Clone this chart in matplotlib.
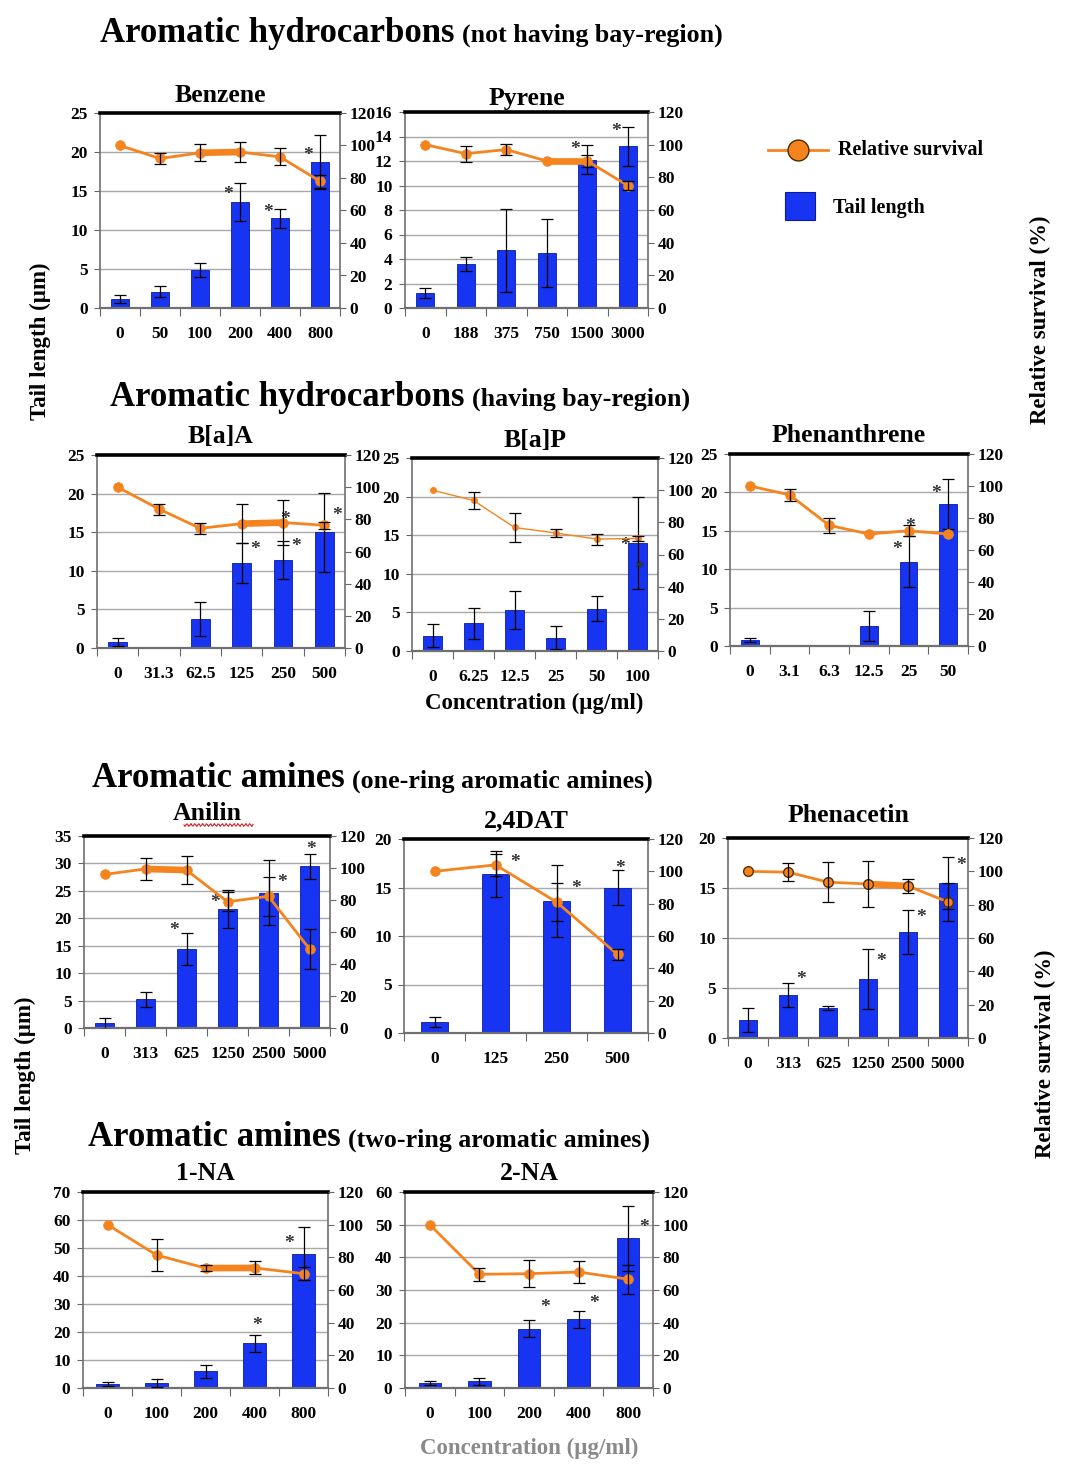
import numpy as np
import matplotlib
matplotlib.use("Agg")
import matplotlib.pyplot as plt
from matplotlib.lines import Line2D
from matplotlib.patches import Rectangle

plt.rcParams['font.family'] = ['Liberation Serif', 'DejaVu Serif']
plt.rcParams['font.weight'] = 'bold'

W, H = 1072, 1479
BLUE = '#1634F2'
ORANGE = '#F5841F'

# ---------------- data ----------------
benzene_conc = ['0', '50', '100', '200', '400', '800']
benzene_tail = [1.2, 2.1, 4.9, 13.6, 11.5, 18.7]
benzene_tail_err = [0.5, 0.7, 0.9, 2.4, 1.2, 3.5]
benzene_surv = [100, 92, 95.5, 96, 93, 78]
benzene_surv_err = [0, 3.6, 5.3, 6.2, 5.3, 4]
benzene_stars = [(3, 14.6, 'L'), (4, 12.3, 'L'), (5, 19.6, 'L')]

pyrene_conc = ['0', '188', '375', '750', '1500', '3000']
pyrene_tail = [1.2, 3.6, 4.7, 4.5, 12.1, 13.2]
pyrene_tail_err = [0.4, 0.6, 3.4, 2.8, 1.2, 1.6]
pyrene_surv = [100, 94.5, 97, 90, 90, 75]
pyrene_surv_err = [0, 4.9, 3.6, 0, 3.5, 2.6]
pyrene_stars = [(4, 12.9, 'L'), (5, 14.4, 'L')]

baa_conc = ['0', '31.3', '62.5', '125', '250', '500']
baa_tail = [0.8, 0, 3.8, 11.0, 11.4, 15.0]
baa_tail_err = [0.5, 0, 2.2, 2.6, 2.4, 5.1]
baa_surv = [100, 86.4, 74.4, 77.3, 78, 76.3]
baa_surv_err = [0, 3.4, 3.4, 12, 14, 2]
baa_stars = [(3, 12.8, 'R'), (4, 16.6, 'C'), (4, 13.2, 'R'), (5, 17.2, 'R')]

bap_conc = ['0', '6.25', '12.5', '25', '50', '100']
bap_tail = [2.0, 3.6, 5.3, 1.7, 5.5, 14.0]
bap_tail_err = [1.5, 2.0, 2.5, 1.5, 1.6, 6.0]
bap_surv = [100, 93.6, 76.8, 73.4, 69.6, 70]
bap_surv_err = [0, 5.3, 9, 2.6, 3.4, 1.5]
bap_stars = [(5, 13.7, 'L'), (5, 10.5, 'C')]

phen_conc = ['0', '3.1', '6.3', '12.5', '25', '50']
phen_tail = [0.8, 0, 0, 2.6, 11.0, 18.5]
phen_tail_err = [0.3, 0, 0, 1.9, 3.3, 3.3]
phen_surv = [100, 94.5, 75.4, 70, 72, 70]
phen_surv_err = [0, 3.6, 4.6, 0, 3.4, 0]
phen_stars = [(4, 12.6, 'L'), (4, 15.6, 'C'), (5, 19.8, 'L')]

anilin_conc = ['0', '313', '625', '1250', '2500', '5000']
anilin_tail = [0.9, 5.2, 14.4, 21.7, 24.7, 29.5]
anilin_tail_err = [1.0, 1.4, 3.0, 3.4, 6.0, 2.3]
anilin_surv = [96, 99.4, 98.7, 78.9, 82.3, 49.4]
anilin_surv_err = [0, 7, 9, 6, 12, 12.4]
anilin_stars = [(2, 17.8, 'L'), (3, 22.8, 'L'), (4, 26.5, 'R'), (5, 32.5, 'C')]

dat_conc = ['0', '125', '250', '500']
dat_tail = [1.1, 16.4, 13.6, 15.0]
dat_tail_err = [0.5, 2.4, 3.7, 1.8]
dat_surv = [100, 104, 81, 48.6]
dat_surv_err = [0, 6.6, 12, 3.6]
dat_stars = [(1, 17.6, 'R'), (2, 14.9, 'R'), (3, 17.0, 'C')]

phenac_conc = ['0', '313', '625', '1250', '2500', '5000']
phenac_tail = [1.8, 4.3, 3.0, 5.9, 10.6, 15.5]
phenac_tail_err = [1.2, 1.2, 0.2, 3.0, 2.2, 2.6]
phenac_surv = [100, 99.5, 93.5, 92.4, 91.2, 81.6]
phenac_surv_err = [0, 5.4, 12, 14, 4.2, 11.4]
phenac_stars = [(1, 5.9, 'R'), (3, 7.7, 'R'), (4, 12.1, 'R'), (5, 17.2, 'R')]

na1_conc = ['0', '100', '200', '400', '800']
na1_tail = [1.5, 1.8, 6.0, 16.0, 48.0]
na1_tail_err = [0.8, 1.3, 2.3, 3.0, 9.5]
na1_surv = [100, 81.4, 73.4, 73.5, 70]
na1_surv_err = [0, 10, 2, 4, 3.8]
na1_stars = [(3, 22.3, 'C'), (4, 51.5, 'L')]

na2_conc = ['0', '100', '200', '400', '800']
na2_tail = [1.6, 2.0, 18.2, 21.0, 45.8]
na2_tail_err = [0.6, 1.2, 2.7, 2.6, 10.0]
na2_surv = [100, 69.6, 70, 71, 66.6]
na2_surv_err = [0, 4, 8.2, 6.5, 8.8]
na2_stars = [(2, 24.5, 'R'), (3, 26.0, 'R'), (4, 49.0, 'R')]


def px(x0, y0, x1, y1):
    return [x0 / W, 1 - y1 / H, (x1 - x0) / W, (y1 - y0) / H]


fig = plt.figure(figsize=(W / 100, H / 100), dpi=100)

STAR_OFF = {'L': -0.3, 'R': 0.32, 'C': 0.05}
TICK_FS = 12.5


def panel(rect, title, conc, tail, tail_err, surv, surv_err, stars, ymax, ystep,
          thick=None, thin=False, edged=False, title_dy=0):
    ax = fig.add_axes(px(*rect))
    n = len(conc)
    x = np.arange(n)
    ax.set_axisbelow(True)
    ax.yaxis.grid(True, color='#a8a8a8', lw=1.0)
    ax.bar(x, tail, width=0.45, color=BLUE, edgecolor='#0a1c9c', lw=0.6, zorder=2)
    idx = [i for i in range(n) if tail[i] > 0]
    ax.errorbar(x[idx], np.array(tail)[idx], yerr=np.array(tail_err)[idx], fmt='none',
                ecolor='k', elinewidth=0.9, capsize=4, capthick=0.9, zorder=3)
    ax.set_xlim(-0.5, n - 0.5)
    ax.set_ylim(0, ymax)
    ax.set_yticks(np.arange(0, ymax + 0.1, ystep))
    ax.set_xticks(x)
    ax.set_xticklabels(conc)
    ax.set_xticks(np.arange(-0.5, n, 1.0), minor=True)
    ax.tick_params(axis='x', which='major', length=0, pad=13, labelsize=TICK_FS)
    ax.tick_params(axis='x', which='minor', length=6, width=0.8, color='#666666', direction='out')
    ax.tick_params(axis='y', length=4, width=0.8, color='#666666', labelsize=TICK_FS, pad=5)
    for s in ['left', 'right', 'bottom']:
        ax.spines[s].set_color('#707070')
        ax.spines[s].set_linewidth(1.2)
    ax.spines['bottom'].set_linewidth(1.6)
    ax.spines['top'].set_color('black')
    ax.spines['top'].set_linewidth(2.6)
    for i, y, side in stars:
        ax.text(i + STAR_OFF[side], y, '*', ha='center', va='center', fontsize=14,
                color='#333333', zorder=5)

    ax2 = ax.twinx()
    for s in ax2.spines.values():
        s.set_visible(False)
    ax2.set_ylim(0, 120)
    ax2.set_yticks(range(0, 121, 20))
    ax2.tick_params(axis='y', length=4, width=0.8, color='#666666', labelsize=TICK_FS, pad=3)
    lw, ms = (1.0, 4.5) if thin else (2.0, 7)
    mec = '#5a3000' if edged else ORANGE
    ax2.plot(x, surv, color=ORANGE, lw=lw, marker='o', ms=ms, mfc=ORANGE, mec=mec,
             mew=1.0 if edged else 0.5, zorder=3)
    if thick is not None:
        a, b = thick
        ax2.plot(x[a:b + 1], surv[a:b + 1], color=ORANGE, lw=4.8, solid_capstyle='butt', zorder=2)
    eidx = [i for i in range(n) if surv_err[i] > 0]
    ax2.errorbar(x[eidx], np.array(surv)[eidx], yerr=np.array(surv_err)[eidx], fmt='none',
                 ecolor='k', elinewidth=0.9, capsize=4, capthick=0.9, zorder=4)
    cx = (rect[0] + rect[2]) / 2
    fig.text(cx / W, 1 - (rect[1] - 18 + title_dy) / H, title, ha='center', va='center',
             fontsize=18.5, fontweight='bold')
    return ax, ax2


panel((100, 113, 340, 308), 'Benzene', benzene_conc, benzene_tail, benzene_tail_err,
      benzene_surv, benzene_surv_err, benzene_stars, 25, 5, thick=(2, 3))
panel((405, 112, 648, 308), 'Pyrene', pyrene_conc, pyrene_tail, pyrene_tail_err,
      pyrene_surv, pyrene_surv_err, pyrene_stars, 16, 2, thick=(3, 4), title_dy=4)
panel((97, 455, 345, 648), 'B[a]A', baa_conc, baa_tail, baa_tail_err,
      baa_surv, baa_surv_err, baa_stars, 25, 5, thick=(3, 4))
panel((412, 458, 658, 651), 'B[a]P', bap_conc, bap_tail, bap_tail_err,
      bap_surv, bap_surv_err, bap_stars, 25, 5, thin=True)
panel((730, 454, 968, 646), 'Phenanthrene', phen_conc, phen_tail, phen_tail_err,
      phen_surv, phen_surv_err, phen_stars, 25, 5)
panel((84, 836, 330, 1028), 'Anilin', anilin_conc, anilin_tail, anilin_tail_err,
      anilin_surv, anilin_surv_err, anilin_stars, 35, 5, thick=(1, 2), title_dy=-4)
panel((404, 839, 648, 1033), '2,4DAT', dat_conc, dat_tail, dat_tail_err,
      dat_surv, dat_surv_err, dat_stars, 20, 5)
panel((728, 838, 968, 1038), 'Phenacetin', phenac_conc, phenac_tail, phenac_tail_err,
      phenac_surv, phenac_surv_err, phenac_stars, 20, 5, thick=(3, 4), edged=True, title_dy=-4)
panel((83, 1192, 328, 1388), '1-NA', na1_conc, na1_tail, na1_tail_err,
      na1_surv, na1_surv_err, na1_stars, 70, 10, thick=(2, 3))
panel((405, 1192, 653, 1388), '2-NA', na2_conc, na2_tail, na2_tail_err,
      na2_surv, na2_surv_err, na2_stars, 60, 10)

# red spell-check squiggle under "Anilin"
sx = np.linspace(184, 253, 60)
sy = 825 + 1.5 * np.sin((sx - 184) * 1.6)
fig.add_artist(Line2D(sx / W, 1 - sy / H, color='#d42020', lw=0.8))


# section headings
def heading(x, y, big, small):
    t = fig.text(x / W, 1 - y / H, big, ha='left', va='center', fontsize=25, fontweight='bold')
    fig.canvas.draw()
    bb = t.get_window_extent()
    fig.text((bb.x1 + 7) / W, 1 - (y + 2) / H, small, ha='left', va='center',
             fontsize=18.6, fontweight='bold')


heading(100, 33, 'Aromatic hydrocarbons', '(not having bay-region)')
heading(110, 397, 'Aromatic hydrocarbons', '(having bay-region)')
heading(92, 779, 'Aromatic amines', '(one-ring aromatic amines)')
heading(88, 1138, 'Aromatic amines', '(two-ring aromatic amines)')

# axis titles
fig.text(40 / W, 1 - 341 / H, 'Tail length (µm)', rotation=90, ha='center', va='center',
         fontsize=16.5, fontweight='bold')
fig.text(1040 / W, 1 - 320 / H, 'Relative survival (%)', rotation=90, ha='center', va='center',
         fontsize=16.5, fontweight='bold')
fig.text(25 / W, 1 - 1075 / H, 'Tail length (µm)', rotation=90, ha='center', va='center',
         fontsize=16.5, fontweight='bold')
fig.text(1045 / W, 1 - 1054 / H, 'Relative survival (%)', rotation=90, ha='center', va='center',
         fontsize=16.5, fontweight='bold')
fig.text(534 / W, 1 - 703 / H, 'Concentration (µg/ml)', ha='center', va='center',
         fontsize=16.5, fontweight='bold')
fig.text(529 / W, 1 - 1448 / H, 'Concentration (µg/ml)', ha='center', va='center',
         fontsize=16.5, fontweight='bold', color='#8a8a8a')

# legend
fig.add_artist(Line2D([768 / W, 828 / W], [1 - 150 / H, 1 - 150 / H], color=ORANGE, lw=2))
fig.add_artist(Line2D([798 / W], [1 - 150 / H], marker='o', ms=15, mfc=ORANGE, mec='#4a2a00',
                      mew=1.0, color=ORANGE))
fig.text(838 / W, 1 - 150 / H, 'Relative survival', ha='left', va='center', fontsize=14.5,
         fontweight='bold')
fig.add_artist(Rectangle((785 / W, 1 - 220 / H), 30 / W, 28 / H, facecolor=BLUE,
                         edgecolor='#0a1c9c', lw=0.8, transform=fig.transFigure))
fig.text(833 / W, 1 - 208 / H, 'Tail length', ha='left', va='center', fontsize=14.5,
         fontweight='bold')

fig.savefig('out.png', dpi=100)
